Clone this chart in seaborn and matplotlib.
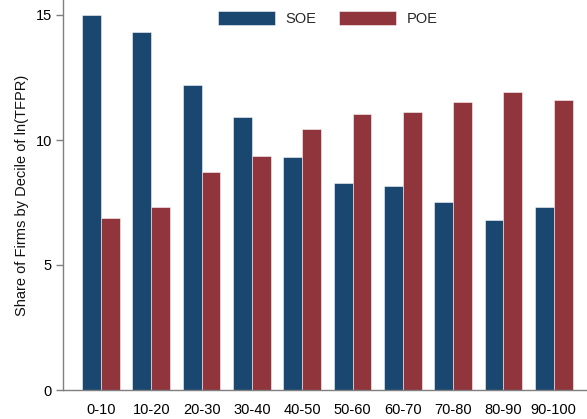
import matplotlib
matplotlib.use("Agg")
import matplotlib.pyplot as plt
import seaborn as sns
import pandas as pd

deciles = ["0-10", "10-20", "20-30", "30-40", "40-50", "50-60", "60-70", "70-80", "80-90", "90-100"]
soe = [15.0, 14.31, 12.2, 10.93, 9.33, 8.29, 8.17, 7.53, 6.79, 7.33]
poe = [6.88, 7.31, 8.72, 9.36, 10.44, 11.03, 11.12, 11.51, 11.93, 11.61]
groups = ["SOE", "POE"]
y_ticks = [0, 5, 10, 15]
y_label = "Share of Firms by Decile of ln(TFPR)"

df = pd.DataFrame({
    "decile": deciles * 2,
    "share": soe + poe,
    "group": ["SOE"] * len(deciles) + ["POE"] * len(deciles),
})

sns.set_style("white")
plt.rcParams["font.family"] = ["Liberation Sans", "DejaVu Sans"]

fig = plt.figure(figsize=(5.87, 4.19), dpi=100)
ax = fig.add_axes([63 / 587, 1 - 390 / 419, 1 - 63 / 587, 390 / 419])

sns.barplot(data=df, x="decile", y="share", hue="group", order=deciles,
            hue_order=groups, palette=["#1a476f", "#90353b"], width=0.75,
            edgecolor=(1, 1, 1, 0.6), linewidth=0.6, saturation=1, ax=ax)

ax.set_ylim(0, 15.6)
ax.set_xlim(-0.755, 9.66)
ax.set_yticks(y_ticks)
ax.set_yticklabels([str(t) for t in y_ticks])
ax.set_xlabel("")
ax.set_ylabel(y_label, fontsize=10.5, color="#111111", labelpad=5)

for s in ["top", "right"]:
    ax.spines[s].set_visible(False)
for s in ["left", "bottom"]:
    ax.spines[s].set_color("#7f7f7f")
    ax.spines[s].set_linewidth(1.0)

ax.tick_params(axis="y", which="both", left=True, length=5, width=1,
               color="#7f7f7f", labelsize=10.5, labelcolor="#000000", pad=3)
ax.tick_params(axis="x", which="both", bottom=False, labelsize=10.5,
               labelcolor="#000000", pad=6)

leg = ax.legend(loc="upper center", ncol=2, frameon=False, fontsize=10.5,
                handlelength=3.9, handleheight=1.1, handletextpad=0.7,
                columnspacing=1.6, bbox_to_anchor=(0.505, 1.005))

fig.savefig("out.png", dpi=100)
